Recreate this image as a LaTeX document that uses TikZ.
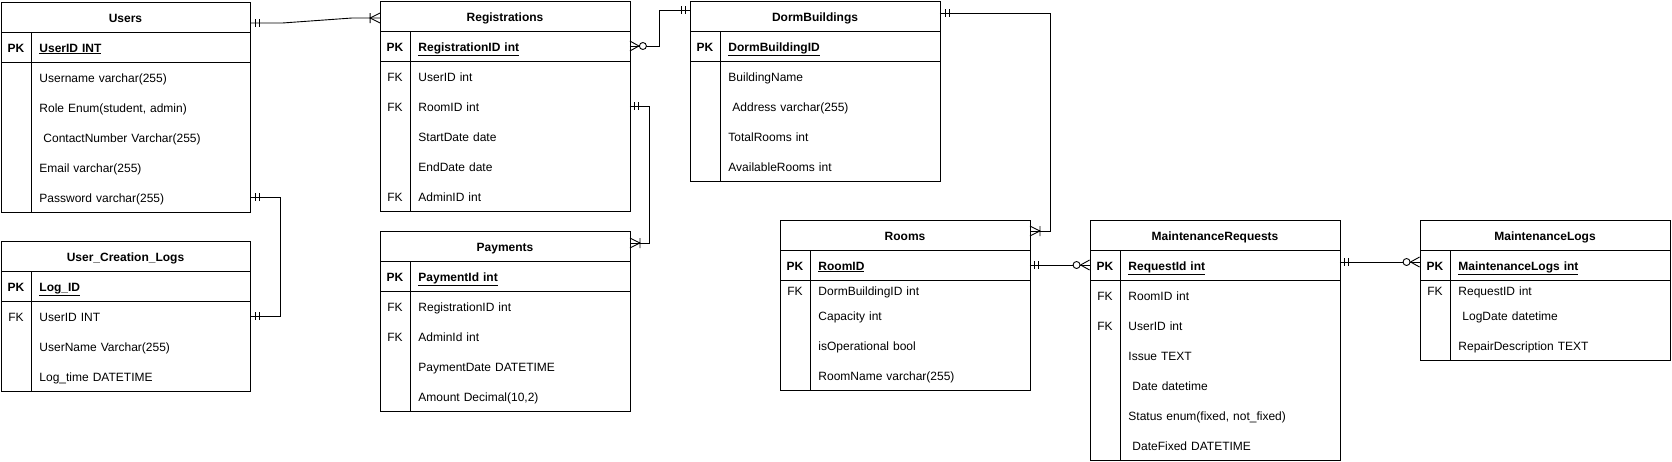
\documentclass[tikz,border=0pt]{standalone}
\usepackage{fontspec}
\setmainfont{Liberation Sans}

\begin{document}
\begin{tikzpicture}[x=1pt, y=-1pt, line width=0.9pt,
    font=\fontsize{12}{14}\selectfont,
    bold/.style={font=\fontsize{12}{14}\selectfont\bfseries},
    tabhead/.style={bold, minimum width=249pt, minimum height=30pt, inner sep=0pt, text height=10pt, text depth=0pt},
    keycell/.style={minimum width=30pt, minimum height=20pt, inner sep=0pt, text height=10pt, text depth=0pt},
    field/.style={anchor=west, text width=203pt, inner xsep=8pt, inner ysep=0pt, minimum height=20pt, align=left, text height=10pt, text depth=0pt},
    mandone/.pic={\draw (5,-4) -- (5,4) (9,-4) -- (9,4);},
    onemany/.pic={\draw (0,-5) -- (10,0) -- (0,5) (10,-5) -- (10,5);},
    zeromany/.pic={\draw (0,-5) -- (9,0) -- (0,5); \draw[fill=white] (13,0) circle[radius=3.5pt];}
]
\useasboundingbox (0,0) rectangle (1672,461);

% Users
\draw (1,2) rectangle (250,212);
\draw (1,32) -- (250,32) (1,62) -- (250,62) (31,32) -- (31,212);
\node[tabhead] (users) at (125.5,17) {Users};
\node[keycell, bold] (users-k0) at (16,47) {PK};
\node[field, bold] (users-pk) at (31,47) {\underline{UserID INT}};
\foreach \y/\k/\t [count=\i] in {77//Username varchar(255), 107//{Role Enum(student, admin)}, 137//\ ContactNumber Varchar(255), 167//Email varchar(255), 197//Password varchar(255)}{
    \node[keycell] (users-k\i) at (16,\y) {\k};
    \node[field] (users-\i) at (31,\y) {\t};
}

% User_Creation_Logs
\draw (1,241) rectangle (250,391);
\draw (1,271) -- (250,271) (1,301) -- (250,301) (31,271) -- (31,391);
\node[tabhead] (ucl) at (125.5,256) {User\_Creation\_Logs};
\node[keycell, bold] (ucl-k0) at (16,286) {PK};
\node[field, bold] (ucl-pk) at (31,286) {\underline{Log\_ID}};
\foreach \y/\k/\t [count=\i] in {316/FK/UserID INT, 346//UserName Varchar(255), 376//Log\_time DATETIME}{
    \node[keycell] (ucl-k\i) at (16,\y) {\k};
    \node[field] (ucl-\i) at (31,\y) {\t};
}

% Registrations
\draw (380,1) rectangle (630,211);
\draw (380,31) -- (630,31) (380,61) -- (630,61) (410,31) -- (410,211);
\node[tabhead] (regs) at (505,16) {Registrations};
\node[keycell, bold] (regs-k0) at (395,46) {PK};
\node[field, bold] (regs-pk) at (410,46) {\underline{RegistrationID int}};
\foreach \y/\k/\t [count=\i] in {76/FK/UserID int, 106/FK/RoomID int, 136//StartDate date, 166//EndDate date, 196/FK/AdminID int}{
    \node[keycell] (regs-k\i) at (395,\y) {\k};
    \node[field] (regs-\i) at (410,\y) {\t};
}

% Payments
\draw (380,231) rectangle (630,411);
\draw (380,261) -- (630,261) (380,291) -- (630,291) (410,261) -- (410,411);
\node[tabhead] (pay) at (505,246) {Payments};
\node[keycell, bold] (pay-k0) at (395,276) {PK};
\node[field, bold] (pay-pk) at (410,276) {\underline{PaymentId int}};
\foreach \y/\k/\t [count=\i] in {306/FK/RegistrationID int, 336/FK/AdminId int, 366//PaymentDate DATETIME, 396//{Amount Decimal(10,2)}}{
    \node[keycell] (pay-k\i) at (395,\y) {\k};
    \node[field] (pay-\i) at (410,\y) {\t};
}

% DormBuildings
\draw (690,1) rectangle (940,181);
\draw (690,31) -- (940,31) (690,61) -- (940,61) (720,31) -- (720,181);
\node[tabhead] (dorm) at (815,16) {DormBuildings};
\node[keycell, bold] (dorm-k0) at (705,46) {PK};
\node[field, bold] (dorm-pk) at (720,46) {\underline{DormBuildingID}};
\foreach \y/\t [count=\i] in {76/BuildingName, 106/\ Address varchar(255), 136/TotalRooms int, 166/AvailableRooms int}{
    \node[field] (dorm-\i) at (720,\y) {\t};
}

% Rooms
\draw (780,220) rectangle (1030,390);
\draw (780,250) -- (1030,250) (780,280) -- (1030,280) (810,250) -- (810,390);
\node[tabhead] (rooms) at (905,235) {Rooms};
\node[keycell, bold] (rooms-k0) at (795,265) {PK};
\node[field, bold] (rooms-pk) at (810,265) {\underline{RoomID}};
\foreach \y/\k/\t [count=\i] in {290/FK/DormBuildingID int, 315//Capacity int, 345//isOperational bool, 375//RoomName varchar(255)}{
    \node[keycell] (rooms-k\i) at (795,\y) {\k};
    \node[field] (rooms-\i) at (810,\y) {\t};
}

% MaintenanceRequests
\draw (1090,220) rectangle (1340,460);
\draw (1090,250) -- (1340,250) (1090,280) -- (1340,280) (1120,250) -- (1120,460);
\node[tabhead] (mreq) at (1215,235) {MaintenanceRequests};
\node[keycell, bold] (mreq-k0) at (1105,265) {PK};
\node[field, bold] (mreq-pk) at (1120,265) {\underline{RequestId int}};
\foreach \y/\k/\t [count=\i] in {295/FK/RoomID int, 325/FK/UserID int, 355//Issue TEXT, 385//\ Date datetime, 415//{Status enum(fixed, not\_fixed)}, 445//\ DateFixed DATETIME}{
    \node[keycell] (mreq-k\i) at (1105,\y) {\k};
    \node[field] (mreq-\i) at (1120,\y) {\t};
}

% MaintenanceLogs
\draw (1420,220) rectangle (1670,360);
\draw (1420,250) -- (1670,250) (1420,280) -- (1670,280) (1450,250) -- (1450,360);
\node[tabhead] (mlog) at (1545,235) {MaintenanceLogs};
\node[keycell, bold] (mlog-k0) at (1435,265) {PK};
\node[field, bold] (mlog-pk) at (1450,265) {\underline{MaintenanceLogs int}};
\foreach \y/\k/\t [count=\i] in {290/FK/RequestID int, 315//\ LogDate datetime, 345//RepairDescription TEXT}{
    \node[keycell] (mlog-k\i) at (1435,\y) {\k};
    \node[field] (mlog-\i) at (1450,\y) {\t};
}

% relations
\draw ([yshift=-6pt]users.east) -- ++(32,0) -- ([shift={(-28pt,-2pt)}]regs.west) -- ([yshift=-2pt]regs.west);
\pic at ([yshift=-6pt]users.east) {mandone};
\pic[xscale=-1] at ([yshift=-2pt]regs.west) {onemany};

\draw (users-5.east) -- ++(30,0) |- (ucl-1.east);
\pic at (users-5.east) {mandone};
\pic at (ucl-1.east) {mandone};

\draw (regs-pk.east) -- ++(30,0) |- ([yshift=6pt]dorm.west);
\pic at (regs-pk.east) {zeromany};
\pic[xscale=-1] at ([yshift=6pt]dorm.west) {mandone};

\draw (regs-2.east) -- ++(20,0) |- ([yshift=3pt]pay.east);
\pic at (regs-2.east) {mandone};
\pic at ([yshift=3pt]pay.east) {onemany};

\draw ([yshift=3pt]dorm.east) -- ++(110,0) |- ([yshift=4pt]rooms.east);
\pic at ([yshift=3pt]dorm.east) {mandone};
\pic at ([yshift=4pt]rooms.east) {onemany};

\draw (rooms-pk.east) -- (mreq-k0.west);
\pic at (rooms-pk.east) {mandone};
\pic[xscale=-1] at (mreq-k0.west) {zeromany};

\draw ([yshift=3pt]mreq-pk.east) -- ([yshift=3pt]mlog-k0.west);
\pic at ([yshift=3pt]mreq-pk.east) {mandone};
\pic[xscale=-1] at ([yshift=3pt]mlog-k0.west) {zeromany};
\end{tikzpicture}
\end{document}
